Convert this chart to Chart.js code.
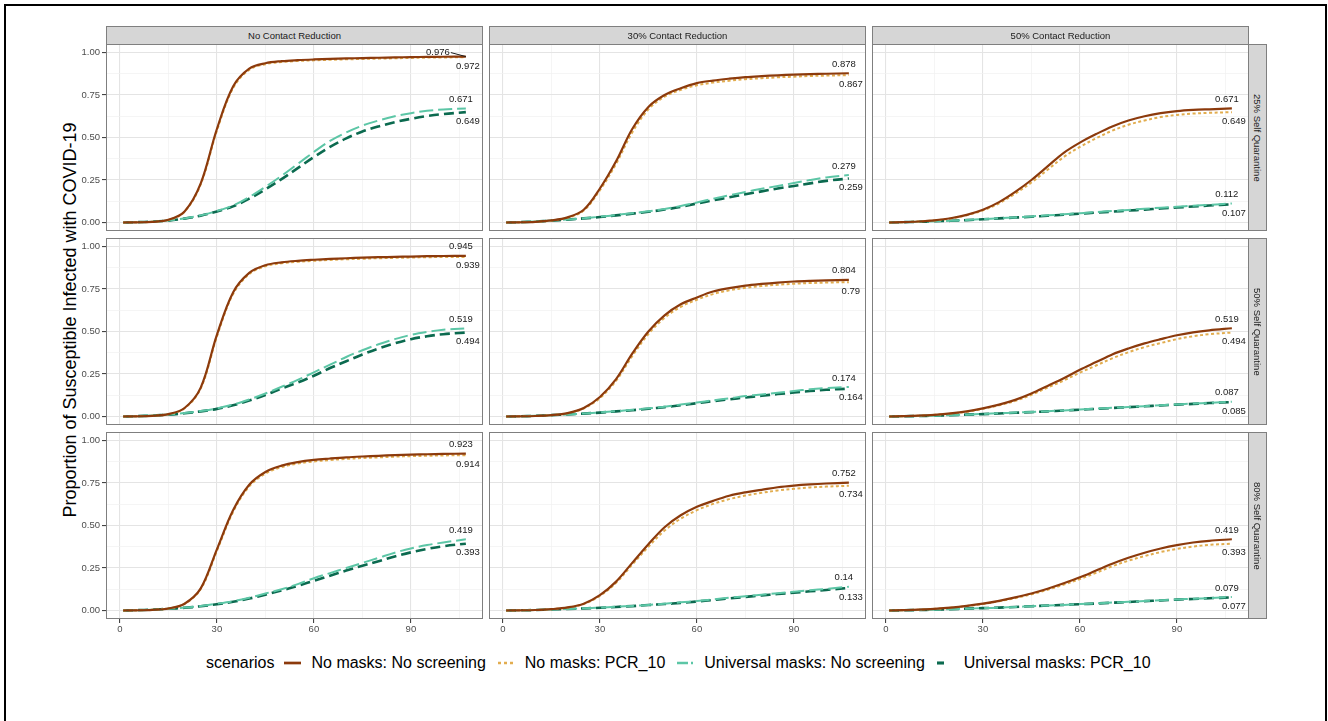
<!DOCTYPE html>
<html>
<head>
<meta charset="utf-8">
<script src="https://cdn.jsdelivr.net/npm/chart.js@4.4.0/dist/chart.umd.min.js"></script>
<style>
  body { margin: 0; background: #fff; font-family: "Liberation Sans", Arial, sans-serif; }
  #fig { position: relative; width: 1328px; height: 721px; overflow: hidden; }
  .frame { position: absolute; left: 4px; top: 4px; width: 1319px; height: 800px; border: 2px solid #000; }
  .strip { position: absolute; box-sizing: border-box; background: #d6d6d6; border: 1px solid #7f7f7f;
           font-size: 9.5px; color: #1a1a1a; display: flex; align-items: center; justify-content: center; }
  .strip.right { writing-mode: vertical-rl; }
  canvas { position: absolute; }
  .ytitle { position: absolute; left: 70px; top: 320px; transform: translate(-50%, -50%) rotate(-90deg);
            font-size: 18px; color: #000; white-space: nowrap; }
  .legend { position: absolute; left: 206px; top: 652px; height: 22px; display: flex; align-items: center;
            font-size: 16px; color: #000; white-space: nowrap; }
  .legend svg { margin: 0 10px; }
  .legend span.item { margin-right: 2px; }
</style>
</head>
<body>
<div id="fig">
  <div class="frame"></div>
  <div class="ytitle">Proportion of Susceptible Infected with COVID-19</div>
  <div class="legend" id="legend"><span>scenarios</span></div>
</div>
<script>
const contactLabels = ['No Contact Reduction', '30% Contact Reduction', '50% Contact Reduction'];
const quarantineLabels = ['25% Self Quarantine', '50% Self Quarantine', '80% Self Quarantine'];
const scenarioNames = ['No masks: No screening', 'No masks: PCR_10', 'Universal masks: No screening', 'Universal masks: PCR_10'];
const days = [1, 5, 10, 15, 20, 25, 30, 35, 40, 45, 50, 55, 60, 65, 70, 75, 80, 85, 90, 95, 100, 107];
const xTicks = [0, 15, 30, 45, 60, 75, 90, 105];
const yTicks = [0, 0.125, 0.25, 0.375, 0.5, 0.625, 0.75, 0.875, 1];

// 25% self quarantine
const noCR_q25_noMaskNoScreen = [0, 0.001, 0.004, 0.016, 0.065, 0.23, 0.55, 0.80, 0.905, 0.937, 0.949, 0.955, 0.959, 0.962, 0.965, 0.967, 0.969, 0.971, 0.973, 0.974, 0.975, 0.976];
const noCR_q25_noMaskPcr = [0, 0.001, 0.004, 0.015, 0.063, 0.225, 0.54, 0.79, 0.898, 0.931, 0.944, 0.95, 0.954, 0.957, 0.96, 0.962, 0.964, 0.966, 0.968, 0.97, 0.971, 0.972];
const noCR_q25_maskNoScreen = [0, 0.002, 0.005, 0.012, 0.024, 0.042, 0.068, 0.10, 0.15, 0.21, 0.275, 0.345, 0.415, 0.48, 0.53, 0.57, 0.60, 0.625, 0.643, 0.657, 0.665, 0.671];
const noCR_q25_maskPcr = [0, 0.002, 0.005, 0.011, 0.023, 0.04, 0.065, 0.095, 0.14, 0.195, 0.255, 0.32, 0.385, 0.445, 0.495, 0.535, 0.565, 0.59, 0.61, 0.626, 0.638, 0.649];

const cr30_q25_noMaskNoScreen = [0, 0.001, 0.004, 0.012, 0.03, 0.075, 0.20, 0.36, 0.55, 0.68, 0.75, 0.79, 0.82, 0.835, 0.846, 0.855, 0.861, 0.866, 0.870, 0.873, 0.875, 0.878];
const cr30_q25_noMaskPcr = [0, 0.001, 0.004, 0.011, 0.028, 0.07, 0.19, 0.345, 0.53, 0.665, 0.74, 0.78, 0.807, 0.823, 0.834, 0.843, 0.849, 0.854, 0.858, 0.862, 0.864, 0.867];
const cr30_q25_maskNoScreen = [0, 0.002, 0.006, 0.012, 0.018, 0.025, 0.034, 0.044, 0.055, 0.066, 0.08, 0.097, 0.118, 0.14, 0.16, 0.18, 0.198, 0.215, 0.232, 0.25, 0.265, 0.279];
const cr30_q25_maskPcr = [0, 0.002, 0.006, 0.011, 0.017, 0.024, 0.032, 0.042, 0.052, 0.063, 0.076, 0.092, 0.112, 0.13, 0.148, 0.166, 0.183, 0.2, 0.215, 0.23, 0.245, 0.259];

const cr50_q25_noMaskNoScreen = [0, 0.002, 0.006, 0.013, 0.025, 0.045, 0.075, 0.12, 0.18, 0.25, 0.33, 0.41, 0.47, 0.52, 0.565, 0.60, 0.625, 0.643, 0.655, 0.662, 0.666, 0.671];
const cr50_q25_noMaskPcr = [0, 0.002, 0.006, 0.012, 0.024, 0.043, 0.071, 0.113, 0.17, 0.235, 0.31, 0.385, 0.445, 0.495, 0.54, 0.575, 0.60, 0.62, 0.633, 0.641, 0.645, 0.649];
const cr50_q25_maskNoScreen = [0, 0.002, 0.004, 0.007, 0.01, 0.015, 0.02, 0.025, 0.03, 0.036, 0.042, 0.048, 0.055, 0.061, 0.068, 0.074, 0.081, 0.087, 0.093, 0.099, 0.104, 0.112];
const cr50_q25_maskPcr = [0, 0.002, 0.004, 0.007, 0.01, 0.014, 0.019, 0.024, 0.029, 0.034, 0.04, 0.046, 0.052, 0.058, 0.064, 0.07, 0.076, 0.082, 0.088, 0.094, 0.1, 0.107];

// 50% self quarantine
const noCR_q50_noMaskNoScreen = [0, 0.001, 0.004, 0.014, 0.05, 0.17, 0.48, 0.73, 0.845, 0.89, 0.907, 0.916, 0.922, 0.927, 0.931, 0.934, 0.937, 0.939, 0.941, 0.943, 0.944, 0.945];
const noCR_q50_noMaskPcr = [0, 0.001, 0.004, 0.013, 0.048, 0.165, 0.47, 0.72, 0.838, 0.884, 0.901, 0.91, 0.916, 0.921, 0.925, 0.928, 0.931, 0.933, 0.935, 0.937, 0.938, 0.939];
const noCR_q50_maskNoScreen = [0, 0.002, 0.006, 0.012, 0.02, 0.032, 0.048, 0.07, 0.10, 0.135, 0.175, 0.215, 0.26, 0.305, 0.35, 0.39, 0.425, 0.455, 0.48, 0.497, 0.51, 0.519];
const noCR_q50_maskPcr = [0, 0.002, 0.006, 0.011, 0.019, 0.03, 0.045, 0.066, 0.094, 0.127, 0.165, 0.20, 0.24, 0.285, 0.325, 0.365, 0.40, 0.43, 0.455, 0.472, 0.484, 0.494];

const cr30_q50_noMaskNoScreen = [0, 0.001, 0.003, 0.008, 0.02, 0.05, 0.115, 0.22, 0.37, 0.50, 0.595, 0.66, 0.70, 0.735, 0.755, 0.77, 0.78, 0.788, 0.794, 0.798, 0.801, 0.804];
const cr30_q50_noMaskPcr = [0, 0.001, 0.003, 0.008, 0.019, 0.047, 0.108, 0.21, 0.355, 0.485, 0.58, 0.645, 0.687, 0.72, 0.742, 0.757, 0.767, 0.775, 0.781, 0.785, 0.788, 0.79];
const cr30_q50_maskNoScreen = [0, 0.001, 0.004, 0.008, 0.012, 0.018, 0.024, 0.031, 0.039, 0.048, 0.058, 0.07, 0.082, 0.095, 0.107, 0.12, 0.13, 0.14, 0.15, 0.16, 0.167, 0.174];
const cr30_q50_maskPcr = [0, 0.001, 0.004, 0.008, 0.012, 0.017, 0.023, 0.03, 0.037, 0.046, 0.055, 0.066, 0.078, 0.09, 0.101, 0.112, 0.122, 0.132, 0.141, 0.15, 0.157, 0.164];

const cr50_q50_noMaskNoScreen = [0, 0.002, 0.005, 0.01, 0.018, 0.03, 0.048, 0.07, 0.098, 0.135, 0.18, 0.225, 0.275, 0.32, 0.365, 0.40, 0.43, 0.455, 0.478, 0.495, 0.507, 0.519];
const cr50_q50_noMaskPcr = [0, 0.002, 0.005, 0.01, 0.017, 0.028, 0.045, 0.066, 0.092, 0.127, 0.17, 0.212, 0.258, 0.30, 0.342, 0.378, 0.408, 0.432, 0.455, 0.472, 0.484, 0.494];
const cr50_q50_maskNoScreen = [0, 0.001, 0.003, 0.005, 0.008, 0.011, 0.015, 0.019, 0.023, 0.027, 0.031, 0.036, 0.041, 0.046, 0.051, 0.056, 0.061, 0.066, 0.071, 0.076, 0.080, 0.087];
const cr50_q50_maskPcr = [0, 0.001, 0.003, 0.005, 0.008, 0.011, 0.014, 0.018, 0.022, 0.026, 0.030, 0.035, 0.040, 0.045, 0.050, 0.055, 0.060, 0.065, 0.070, 0.074, 0.079, 0.085];

// 80% self quarantine
const noCR_q80_noMaskNoScreen = [0, 0.001, 0.004, 0.012, 0.04, 0.13, 0.36, 0.59, 0.74, 0.815, 0.852, 0.873, 0.886, 0.894, 0.901, 0.906, 0.91, 0.914, 0.917, 0.919, 0.921, 0.923];
const noCR_q80_noMaskPcr = [0, 0.001, 0.004, 0.012, 0.039, 0.126, 0.35, 0.58, 0.73, 0.805, 0.843, 0.864, 0.877, 0.885, 0.892, 0.897, 0.901, 0.905, 0.908, 0.91, 0.912, 0.914];
const noCR_q80_maskNoScreen = [0, 0.002, 0.005, 0.01, 0.017, 0.027, 0.04, 0.055, 0.075, 0.10, 0.125, 0.155, 0.19, 0.22, 0.25, 0.28, 0.31, 0.34, 0.365, 0.385, 0.40, 0.419];
const noCR_q80_maskPcr = [0, 0.002, 0.005, 0.01, 0.016, 0.025, 0.037, 0.051, 0.07, 0.093, 0.118, 0.145, 0.175, 0.205, 0.235, 0.263, 0.29, 0.318, 0.342, 0.362, 0.378, 0.393];

const cr30_q80_noMaskNoScreen = [0, 0.001, 0.003, 0.008, 0.018, 0.04, 0.09, 0.17, 0.28, 0.39, 0.49, 0.56, 0.61, 0.645, 0.675, 0.695, 0.71, 0.725, 0.735, 0.742, 0.747, 0.752];
const cr30_q80_noMaskPcr = [0, 0.001, 0.003, 0.008, 0.017, 0.038, 0.086, 0.163, 0.27, 0.375, 0.47, 0.54, 0.59, 0.627, 0.655, 0.676, 0.692, 0.706, 0.716, 0.724, 0.729, 0.734];
const cr30_q80_maskNoScreen = [0, 0.001, 0.003, 0.006, 0.009, 0.013, 0.017, 0.022, 0.027, 0.033, 0.04, 0.048, 0.056, 0.065, 0.075, 0.084, 0.093, 0.102, 0.11, 0.119, 0.127, 0.14];
const cr30_q80_maskPcr = [0, 0.001, 0.003, 0.006, 0.009, 0.012, 0.016, 0.021, 0.026, 0.032, 0.038, 0.045, 0.053, 0.062, 0.071, 0.08, 0.089, 0.097, 0.105, 0.113, 0.121, 0.133];

const cr50_q80_noMaskNoScreen = [0, 0.002, 0.005, 0.01, 0.017, 0.027, 0.04, 0.057, 0.077, 0.10, 0.128, 0.16, 0.195, 0.235, 0.275, 0.31, 0.34, 0.365, 0.385, 0.40, 0.41, 0.419];
const cr50_q80_noMaskPcr = [0, 0.002, 0.005, 0.01, 0.016, 0.026, 0.038, 0.054, 0.073, 0.095, 0.122, 0.152, 0.185, 0.222, 0.26, 0.293, 0.32, 0.344, 0.362, 0.376, 0.386, 0.393];
const cr50_q80_maskNoScreen = [0, 0.001, 0.003, 0.005, 0.008, 0.011, 0.014, 0.017, 0.021, 0.025, 0.029, 0.033, 0.038, 0.042, 0.047, 0.051, 0.056, 0.06, 0.065, 0.069, 0.073, 0.079];
const cr50_q80_maskPcr = [0, 0.001, 0.003, 0.005, 0.008, 0.011, 0.014, 0.017, 0.021, 0.025, 0.029, 0.033, 0.037, 0.041, 0.046, 0.05, 0.055, 0.059, 0.064, 0.068, 0.072, 0.077];

// rows = self quarantine, columns = contact reduction
const panels = [
  [[noCR_q25_noMaskNoScreen, noCR_q25_noMaskPcr, noCR_q25_maskNoScreen, noCR_q25_maskPcr],
   [cr30_q25_noMaskNoScreen, cr30_q25_noMaskPcr, cr30_q25_maskNoScreen, cr30_q25_maskPcr],
   [cr50_q25_noMaskNoScreen, cr50_q25_noMaskPcr, cr50_q25_maskNoScreen, cr50_q25_maskPcr]],
  [[noCR_q50_noMaskNoScreen, noCR_q50_noMaskPcr, noCR_q50_maskNoScreen, noCR_q50_maskPcr],
   [cr30_q50_noMaskNoScreen, cr30_q50_noMaskPcr, cr30_q50_maskNoScreen, cr30_q50_maskPcr],
   [cr50_q50_noMaskNoScreen, cr50_q50_noMaskPcr, cr50_q50_maskNoScreen, cr50_q50_maskPcr]],
  [[noCR_q80_noMaskNoScreen, noCR_q80_noMaskPcr, noCR_q80_maskNoScreen, noCR_q80_maskPcr],
   [cr30_q80_noMaskNoScreen, cr30_q80_noMaskPcr, cr30_q80_maskNoScreen, cr30_q80_maskPcr],
   [cr50_q80_noMaskNoScreen, cr50_q80_noMaskPcr, cr50_q80_maskNoScreen, cr50_q80_maskPcr]]
];

const lineColors = ['#8c3a0c', '#e2ad4f', '#5cc6a6', '#0b6a4f'];
const lineWidths = [2.2, 2, 2, 2.6];
const lineDashes = [[], [3, 2.5], [14, 5], [10, 5]];

const FONT = '"Liberation Sans", Arial, sans-serif';
const colLeft = [106, 489, 872];
const rowTop = [44, 238, 432];
const panelW = 377, panelH = 187;
const yAxisW = 46, xAxisH = 22;

const fig = document.getElementById('fig');

// end-of-line value labels + panel border
const endLabels = {
  id: 'endLabels',
  afterDatasetsDraw(chart) {
    const { ctx, chartArea: a, scales: { x, y } } = chart;
    ctx.save();
    ctx.strokeStyle = '#7f7f7f';
    ctx.lineWidth = 1;
    ctx.strokeRect(a.left + 0.5, a.top + 0.5, a.width - 1, a.height - 1);
    ctx.font = '9.5px ' + FONT;
    ctx.fillStyle = '#1a1a1a';
    ctx.textAlign = 'center';
    ctx.textBaseline = 'middle';
    const px = x.getPixelForValue(days[days.length - 1]);
    [[0, 1], [2, 3]].forEach(([hi, lo]) => {
      const dh = chart.data.datasets[hi].data, dl = chart.data.datasets[lo].data;
      const vHi = dh[dh.length - 1].y, vLo = dl[dl.length - 1].y;
      const yHi = y.getPixelForValue(vHi), yLo = y.getPixelForValue(vLo);
      if (yHi - 14 < a.top) {
        ctx.fillText(String(vHi), px - 28, yHi - 4);
        ctx.beginPath();
        ctx.strokeStyle = '#1a1a1a';
        ctx.moveTo(px - 15, yHi - 4);
        ctx.lineTo(px, yHi);
        ctx.stroke();
      } else {
        ctx.fillText(String(vHi), px - 5, yHi - 9);
      }
      ctx.fillText(String(vLo), px + 2, yLo + 9);
    });
    ctx.restore();
  }
};

function minor(ctx, list) {
  const v = ctx.tick ? ctx.tick.value : 0;
  return !list.includes(v);
}

for (let r = 0; r < 3; r++) {
  for (let c = 0; c < 3; c++) {
    const isLeft = c === 0, isBottom = r === 2;
    const cv = document.createElement('canvas');
    const w = panelW + (isLeft ? yAxisW : 0);
    const h = panelH + (isBottom ? xAxisH : 0);
    cv.width = w; cv.height = h;
    cv.style.left = (colLeft[c] - (isLeft ? yAxisW : 0)) + 'px';
    cv.style.top = rowTop[r] + 'px';
    cv.style.width = w + 'px'; cv.style.height = h + 'px';
    fig.appendChild(cv);

    new Chart(cv, {
      type: 'line',
      data: {
        datasets: panels[r][c].map((vals, i) => ({
          label: scenarioNames[i],
          data: days.map((d, k) => ({ x: d, y: vals[k] })),
          borderColor: lineColors[i],
          borderWidth: lineWidths[i],
          borderDash: lineDashes[i],
          pointRadius: 0,
          fill: false,
          tension: 0.35
        }))
      },
      options: {
        responsive: false,
        animation: false,
        devicePixelRatio: 1,
        layout: { padding: 0, autoPadding: false },
        plugins: { legend: { display: false }, tooltip: { enabled: false } },
        scales: {
          x: {
            type: 'linear', min: -4.3, max: 112.3,
            afterBuildTicks: s => { s.ticks = xTicks.map(v => ({ value: v })); },
            afterFit: s => {
              s.height = isBottom ? xAxisH : 0;
              s.paddingLeft = 0; s.paddingRight = 0; s.paddingTop = 0; s.paddingBottom = 0;
            },
            ticks: {
              display: isBottom, autoSkip: false, maxRotation: 0, minRotation: 0, padding: 1,
              color: '#4d4d4d', font: { size: 9.5, family: FONT },
              callback: v => (v % 30 === 0 ? String(v) : '')
            },
            grid: {
              color: ctx => (minor(ctx, [0, 30, 60, 90]) ? '#f1f1f1' : '#e4e4e4'),
              lineWidth: ctx => (minor(ctx, [0, 30, 60, 90]) ? 0.7 : 1.1),
              drawTicks: isBottom, tickLength: 4,
              tickColor: ctx => (minor(ctx, [0, 30, 60, 90]) ? 'rgba(0,0,0,0)' : '#444')
            },
            border: { display: false }
          },
          y: {
            type: 'linear', min: -0.05, max: 1.05,
            afterBuildTicks: s => { s.ticks = yTicks.map(v => ({ value: v })); },
            afterFit: s => {
              s.width = isLeft ? yAxisW : 0;
              s.paddingLeft = 0; s.paddingRight = 0; s.paddingTop = 0; s.paddingBottom = 0;
            },
            ticks: {
              display: isLeft, autoSkip: false, padding: 2,
              color: '#4d4d4d', font: { size: 9.5, family: FONT },
              callback: v => (Number.isInteger(v * 4) ? v.toFixed(2) : '')
            },
            grid: {
              color: ctx => (minor(ctx, [0, 0.25, 0.5, 0.75, 1]) ? '#f1f1f1' : '#e4e4e4'),
              lineWidth: ctx => (minor(ctx, [0, 0.25, 0.5, 0.75, 1]) ? 0.7 : 1.1),
              drawTicks: isLeft, tickLength: 4,
              tickColor: ctx => (minor(ctx, [0, 0.25, 0.5, 0.75, 1]) ? 'rgba(0,0,0,0)' : '#444')
            },
            border: { display: false }
          }
        }
      },
      plugins: [endLabels]
    });
  }
}

// facet strips
contactLabels.forEach((t, c) => {
  const s = document.createElement('div');
  s.className = 'strip';
  s.style.left = colLeft[c] + 'px'; s.style.top = '26px';
  s.style.width = panelW + 'px'; s.style.height = '19px';
  s.textContent = t;
  fig.appendChild(s);
});
quarantineLabels.forEach((t, r) => {
  const s = document.createElement('div');
  s.className = 'strip right';
  s.style.left = (colLeft[2] + panelW - 1) + 'px'; s.style.top = rowTop[r] + 'px';
  s.style.width = '19px'; s.style.height = panelH + 'px';
  s.textContent = t;
  fig.appendChild(s);
});

// legend
const legend = document.getElementById('legend');
const keyDash = ['', '3 3', '11 3 2 3', '7 10'];
scenarioNames.forEach((name, i) => {
  const ns = 'http://www.w3.org/2000/svg';
  const svg = document.createElementNS(ns, 'svg');
  svg.setAttribute('width', '17'); svg.setAttribute('height', '10');
  const ln = document.createElementNS(ns, 'line');
  ln.setAttribute('x1', '0'); ln.setAttribute('x2', '17');
  ln.setAttribute('y1', '5'); ln.setAttribute('y2', '5');
  ln.setAttribute('stroke', lineColors[i]);
  ln.setAttribute('stroke-width', String(lineWidths[i] + 0.5));
  if (keyDash[i]) ln.setAttribute('stroke-dasharray', keyDash[i]);
  svg.appendChild(ln);
  legend.appendChild(svg);
  const sp = document.createElement('span');
  sp.className = 'item';
  sp.textContent = name;
  legend.appendChild(sp);
});
</script>
</body>
</html>
